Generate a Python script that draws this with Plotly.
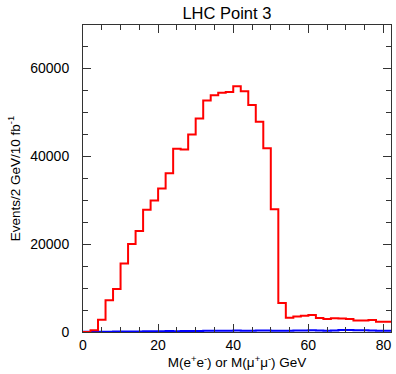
import plotly.graph_objects as go

bin_width = 2
bin_edges = [i * bin_width for i in range(42)]  # 0..82

ee_mumu = [0, 400, 2800, 7200, 9800, 15600, 20000, 22950, 27800, 29900,
           32600, 36100, 41650, 41500, 44900, 48550, 52650, 53850, 54400, 54550,
           55850, 54750, 51600, 47800, 41800, 27900, 6600, 3250, 3550, 3700,
           3850, 3200, 2950, 3100, 3050, 2950, 2600, 2600, 2700, 2350,
           2350]
emu = [50, 50, 60, 80, 90, 100, 120, 130, 150, 170,
       180, 200, 150, 200, 220, 250, 260, 270, 300, 300,
       320, 300, 300, 320, 350, 300, 280, 300, 320, 350,
       400, 350, 300, 350, 450, 450, 400, 400, 350, 300,
       300]

x_ticks = [0, 20, 40, 60, 80]
x_ticklabels = ["0", "20", "40", "60", "80"]
y_ticks = [0, 20000, 40000, 60000]
y_ticklabels = ["0", "20000", "40000", "60000"]

def step_xy(vals):
    xs = bin_edges[:len(vals) + 1]
    ys = list(vals) + [vals[-1]]
    return xs, ys

fig = go.Figure()
bx, by = step_xy(emu)
fig.add_trace(go.Scatter(x=bx, y=by, mode="lines", line=dict(color="#0000ff", width=2, shape="hv"),
                         showlegend=False, hoverinfo="skip"))
rx, ry = step_xy(ee_mumu)
fig.add_trace(go.Scatter(x=rx, y=ry, mode="lines", line=dict(color="#ff0000", width=2, shape="hv"),
                         showlegend=False, hoverinfo="skip"))

font = "Liberation Sans, Arial, Helvetica, sans-serif"
tc = "#333333"
xr = [0, 82]
yr = [0, 69800]
common = dict(ticks="inside", ticklen=8, tickcolor=tc, showgrid=False, zeroline=False, automargin=False)
fig.update_layout(
    width=396, height=374,
    margin=dict(l=83, r=5, t=25, b=42, pad=0),
    paper_bgcolor="white", plot_bgcolor="white",
    font=dict(family=font, size=13, color="black"),
    title=dict(text="LHC Point 3", x=0.573, xanchor="center", xref="container", y=0.965, yref="container",
               yanchor="middle", font=dict(size=16.5, family=font, color="black")),
    xaxis=dict(range=xr, tickvals=x_ticks, ticktext=x_ticklabels, showline=True, linecolor=tc, linewidth=1,
               minor=dict(dtick=5, tick0=0, ticks="inside", ticklen=5, tickcolor=tc),
               title=dict(text="M(e<sup>+</sup>e<sup>-</sup>) or M(μ<sup>+</sup>μ<sup>-</sup>) GeV", standoff=2,
                          font=dict(size=13.5)),
               tickfont=dict(size=14), **common),
    xaxis2=dict(range=xr, overlaying="x", side="top", tickvals=x_ticks, showticklabels=False,
                showline=True, linecolor=tc, linewidth=1,
                minor=dict(dtick=5, tick0=0, ticks="inside", ticklen=5, tickcolor=tc), **common),
    yaxis=dict(range=yr, tickvals=y_ticks, ticktext=y_ticklabels, showline=True, linecolor=tc, linewidth=1,
               minor=dict(dtick=5000, tick0=0, ticks="inside", ticklen=5, tickcolor=tc),
               ticklabelstandoff=10,
               title=dict(text="Events/2 GeV/10 fb<sup>-1</sup>", standoff=6, font=dict(size=13.5)),
               tickfont=dict(size=14), **common),
    yaxis2=dict(range=yr, overlaying="y", side="right", tickvals=y_ticks, showticklabels=False,
                showline=True, linecolor=tc, linewidth=1,
                minor=dict(dtick=5000, tick0=0, ticks="inside", ticklen=5, tickcolor=tc), **common),
)
# invisible trace to activate the mirrored axes
fig.add_trace(go.Scatter(x=[None], y=[None], xaxis="x2", yaxis="y2", showlegend=False, hoverinfo="skip"))

fig.write_html("out.html", config={"displayModeBar": False},
               post_script="document.body.style.margin='0px';")
